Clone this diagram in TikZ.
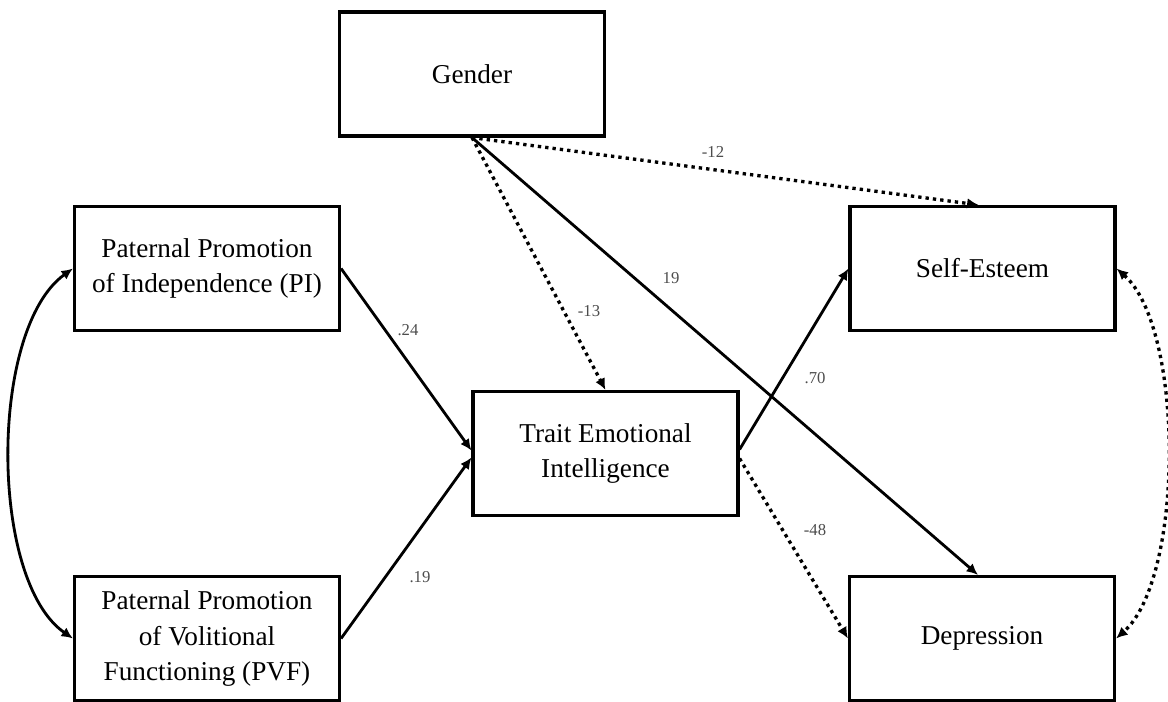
\documentclass[tikz,border=0pt]{standalone}
\usepackage{fontspec}
\setmainfont{Liberation Serif}
\usepackage{tikz}
\usetikzlibrary{arrows.meta}
\usetikzlibrary{calc}
\tikzset{varbox/.style={draw,rectangle,line width=1.8pt,minimum width=5.3cm,minimum height=2.48cm,align=center,font=\fontsize{15.5}{20}\selectfont}}
\tikzset{coef/.style={text=black!70,inner sep=1pt,font=\fontsize{9.5}{11}\selectfont}}
\tikzset{
		% one-headed path, plain and dotted
		solidpath/.style={line width=1.6pt,-{Latex[length=6.5pt,width=6pt]}},
		dotpath/.style={solidpath,line width=1.9pt,dash pattern=on 1.9pt off 2.3pt},
		% covariance between two boxes
		twoway/.style={line width=1.6pt,{Latex[length=6.5pt,width=6pt]}-{Latex[length=6.5pt,width=6pt]}},
	}

\begin{document}
\begin{tikzpicture}[x=0.02cm,y=-0.02cm]
		\useasboundingbox (0,0) rectangle (1168,702);
		
		\node[varbox] (gender) at (472,74) {Gender};
		\node[varbox] (pi) at (207,268.5) {Paternal Promotion\\of Independence (PI)};
		\node[varbox] (pvf) at (207,638.5) {Paternal Promotion\\of Volitional\\Functioning (PVF)};
		\node[varbox] (tei) at (605.5,453.5) {Trait Emotional\\Intelligence};
		\node[varbox] (se) at (982.5,268.5) {Self-Esteem};
		\node[varbox] (dep) at (982,638.5) {Depression};
		
		\draw[solidpath] (pi.east) -- ($(tei.west)+(0,-3)$);
		\draw[solidpath] (pvf.east) -- ($(tei.west)+(0,4)$);
		\draw[dotpath] (gender.south) -- (tei.north);
		\draw[dotpath] (gender.south) -- ($(se.north)+(-4,0)$);
		\draw[solidpath] (gender.south) -- ($(dep.north)+(-4,0)$);
		\draw[solidpath] ($(tei.east)+(0,-4)$) -- (se.west);
		\draw[dotpath] ($(tei.east)+(0,5)$) -- (dep.west);
		
		\draw[twoway] (pi.west) .. controls +(-84,60) and +(-84,-58) .. (pvf.west);
		\draw[twoway,line width=1.9pt,dash pattern=on 1.9pt off 2.3pt] (se.east) .. controls +(68,60) and +(68,-60) .. (dep.east);
		
		\node[coef] (c12) at (713,152) {-12};
		\node[coef] (c19g) at (671,278) {19};
		\node[coef] (c13) at (589,311) {-13};
		\node[coef] (c70) at (815,378) {.70};
		\node[coef] (c48) at (815,530) {-48};
		\node[coef] (c24) at (408,330) {.24};
		\node[coef] (c19) at (420,577) {.19};
		
\end{tikzpicture}
\end{document}
